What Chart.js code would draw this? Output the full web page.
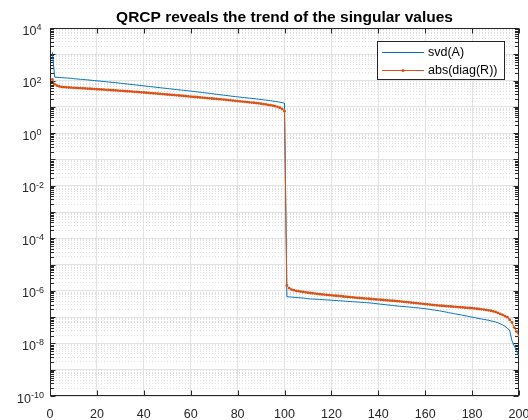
<!DOCTYPE html>
<html><head><meta charset="utf-8">
<script src="https://cdn.jsdelivr.net/npm/chart.js@4/dist/chart.umd.min.js"></script>
<style>html,body{margin:0;padding:0;background:#fff}#wrap{width:528px;height:420px}</style>
</head><body><div id="wrap"><canvas id="c" width="528" height="420"></canvas></div>
<script>
// ---- data ----
const seriesNames = ['svd(A)', 'abs(diag(R))'];
const titleText = 'QRCP reveals the trend of the singular values';
const xTicks = [0, 20, 40, 60, 80, 100, 120, 140, 160, 180, 200];
const yTickExps = [-10, -8, -6, -4, -2, 0, 2, 4];

const svdA = [
1200, 135, 133, 131, 129, 127, 126, 124, 122, 118,
116, 114, 112, 110, 108, 106, 104, 102, 100, 98,
96, 94, 92, 90, 88, 86.5, 84.5, 83, 81, 79,
77, 75.5, 74, 72, 70.5, 69, 67.5, 66, 64.5, 63,
61.5, 60, 58.7, 57.4, 56, 54.7, 53.4, 52.2, 51, 50,
48.8, 47.6, 46.5, 45.4, 44.4, 43.4, 42.4, 41.4, 40.6, 39.8,
38.8, 37.8, 36.9, 36, 35.1, 34.2, 33.4, 32.6, 31.7, 30.9,
30.1, 29.3, 28.6, 27.9, 27.2, 26.5, 25.8, 25.2, 24.6, 24,
23.4, 22.9, 22.4, 21.9, 21.4, 20.9, 20.4, 20, 19.5, 19.1,
18.6, 18.1, 17.6, 17.1, 16.6, 16.1, 15.6, 15.0, 14.4, 13.8,
6.0e-7, 5.9e-7, 5.8e-7, 5.7e-7, 5.6e-7, 5.5e-7, 5.4e-7, 5.3e-7, 5.15e-7, 5.0e-7,
4.94e-7, 4.88e-7, 4.82e-7, 4.76e-7, 4.70e-7, 4.64e-7, 4.58e-7, 4.52e-7, 4.46e-7, 4.40e-7,
4.34e-7, 4.28e-7, 4.22e-7, 4.16e-7, 4.10e-7, 4.04e-7, 3.98e-7, 3.93e-7, 3.87e-7, 3.82e-7,
3.76e-7, 3.71e-7, 3.66e-7, 3.60e-7, 3.55e-7, 3.50e-7, 3.42e-7, 3.34e-7, 3.27e-7, 3.19e-7,
3.12e-7, 3.05e-7, 2.98e-7, 2.91e-7, 2.85e-7, 2.78e-7, 2.72e-7, 2.66e-7, 2.60e-7, 2.58e-7,
2.54e-7, 2.48e-7, 2.44e-7, 2.39e-7, 2.34e-7, 2.29e-7, 2.24e-7, 2.19e-7, 2.14e-7, 2.09e-7,
2.03e-7, 1.97e-7, 1.91e-7, 1.86e-7, 1.80e-7, 1.74e-7, 1.67e-7, 1.61e-7, 1.55e-7, 1.48e-7,
1.43e-7, 1.37e-7, 1.32e-7, 1.28e-7, 1.23e-7, 1.18e-7, 1.13e-7, 1.09e-7, 1.04e-7, 1.00e-7,
9.6e-8, 9.2e-8, 8.8e-8, 8.5e-8, 8.2e-8, 7.9e-8, 7.6e-8, 7.2e-8, 6.9e-8, 6.5e-8,
6.1e-8, 5.6e-8, 5.1e-8, 4.5e-8, 3.8e-8, 3.2e-8, 1.26e-8, 7.9e-9, 5.0e-9, 3.4e-9
];

const absDiagR = [
110, 72, 64, 60, 57.5, 56.5, 55.5, 54.5, 54, 53,
52.6, 51.8, 51.5, 50.6, 50.2, 49.3, 48.9, 48.0, 47.5, 46.8,
46.4, 45.7, 45.3, 44.5, 44.1, 43.3, 42.9, 42.2, 41.5, 40.7,
40.3, 39.6, 39.2, 38.5, 38.0, 37.4, 36.9, 36.3, 35.7, 35.1,
34.6, 33.9, 33.4, 32.8, 32.3, 31.7, 31.2, 30.6, 30.1, 29.5,
29.0, 28.5, 28.0, 27.5, 27.0, 26.6, 26.0, 25.5, 25.1, 24.5,
24.1, 23.7, 23.2, 22.8, 22.4, 22.0, 21.6, 21.2, 20.8, 20.4,
20.0, 19.6, 19.3, 18.9, 18.5, 18.1, 17.7, 17.4, 17.0, 16.6,
16.2, 15.9, 15.6, 15.2, 14.9, 14.6, 14.3, 13.9, 13.6, 13.2,
12.8, 12.4, 12.0, 11.6, 11.2, 10.6, 10.0, 9.3, 8.3, 6.8,
1.6e-6, 1.26e-6, 1.12e-6, 1.06e-6, 1.0e-6, 9.7e-7, 9.4e-7, 9.1e-7, 8.8e-7, 8.5e-7,
8.3e-7, 8.1e-7, 7.9e-7, 7.7e-7, 7.5e-7, 7.3e-7, 7.2e-7, 7.0e-7, 6.9e-7, 6.76e-7,
6.6e-7, 6.5e-7, 6.4e-7, 6.25e-7, 6.1e-7, 6.0e-7, 5.9e-7, 5.8e-7, 5.65e-7, 5.55e-7,
5.45e-7, 5.35e-7, 5.25e-7, 5.15e-7, 5.1e-7, 5.0e-7, 4.9e-7, 4.82e-7, 4.74e-7, 4.66e-7,
4.58e-7, 4.5e-7, 4.42e-7, 4.34e-7, 4.27e-7, 4.2e-7, 4.13e-7, 4.06e-7, 4.0e-7, 3.91e-7,
3.83e-7, 3.74e-7, 3.66e-7, 3.58e-7, 3.50e-7, 3.43e-7, 3.35e-7, 3.28e-7, 3.21e-7, 3.14e-7,
3.07e-7, 3.00e-7, 2.94e-7, 2.87e-7, 2.81e-7, 2.75e-7, 2.71e-7, 2.66e-7, 2.62e-7, 2.58e-7,
2.54e-7, 2.50e-7, 2.46e-7, 2.42e-7, 2.38e-7, 2.34e-7, 2.30e-7, 2.26e-7, 2.23e-7, 2.19e-7,
2.14e-7, 2.09e-7, 2.04e-7, 1.99e-7, 1.94e-7, 1.89e-7, 1.82e-7, 1.75e-7, 1.67e-7, 1.58e-7,
1.45e-7, 1.33e-7, 1.22e-7, 1.10e-7, 1.0e-7, 8.0e-8, 6.3e-8, 4.0e-8, 2.8e-8, 1.9e-8
];

// ---- chart ----
const BLUE = '#0072BD', ORANGE = '#D95319', AX = '#262626';
const FONT = '"Liberation Sans", Arial, Helvetica, sans-serif';
const indices = svdA.map((_, i) => i + 1);
const toPts = arr => arr.map((v, i) => ({x: indices[i], y: v}));

const yGridVals = [];
for (let e = yTickExps[0]; e <= yTickExps[yTickExps.length - 1]; e++) {
  for (let m = 1; m <= 9; m++) {
    if (e === yTickExps[yTickExps.length - 1] && m > 1) break;
    yGridVals.push(Number((m + 'e' + e)));
  }
}
const isMajor = v => Math.abs(Math.log10(v) - Math.round(Math.log10(v))) < 1e-9;

const decor = {
  id: 'decor',
  beforeDatasetsDraw(chart) {
    // axes box and tick marks sit below the data (MATLAB Layer = bottom)
    const {ctx, chartArea: a, scales: {x, y}} = chart;
    ctx.save();
    ctx.strokeStyle = AX; ctx.lineWidth = 1;
    const L = Math.round(a.left) + 0.5, R = Math.round(a.right) - 0.5;
    const T = Math.round(a.top) + 0.5, B = Math.round(a.bottom) - 0.5;
    ctx.strokeRect(L, T, R - L, B - T);
    ctx.beginPath();
    xTicks.forEach(v => {
      const px = Math.round(x.getPixelForValue(v)) + 0.5;
      ctx.moveTo(px, B); ctx.lineTo(px, B - 5);
      ctx.moveTo(px, T); ctx.lineTo(px, T + 5);
    });
    yGridVals.forEach(v => {
      const py = Math.round(y.getPixelForValue(v)) + 0.5;
      const len = isMajor(v) ? 5 : 3.5;
      ctx.moveTo(L, py); ctx.lineTo(L + len, py);
      ctx.moveTo(R, py); ctx.lineTo(R - len, py);
    });
    ctx.stroke();
    ctx.restore();
  },
  afterDraw(chart) {
    const {ctx, chartArea: a, scales: {x, y}} = chart;
    ctx.save();
    // x tick labels
    ctx.fillStyle = AX;
    ctx.font = '12.5px ' + FONT;
    ctx.textAlign = 'center'; ctx.textBaseline = 'alphabetic';
    xTicks.forEach(v => ctx.fillText(String(v), x.getPixelForValue(v), 417.5));
    // y tick labels 10^e
    const baseFont = '12.5px ' + FONT, expFont = '9px ' + FONT;
    ctx.textAlign = 'left';
    yTickExps.forEach(e => {
      const py = y.getPixelForValue(Math.pow(10, e));
      const expStr = e < 0 ? '-' + (-e) : String(e);
      ctx.font = expFont; const we = ctx.measureText(expStr).width;
      ctx.font = baseFont; const wb = ctx.measureText('10').width;
      const right = e < 0 ? 44 : 41.5;
      ctx.fillText('10', right - we - wb, py + 6.5);
      ctx.font = expFont; ctx.fillText(expStr, right - we, py + 2);
    });
    // title
    ctx.fillStyle = '#000';
    ctx.font = 'bold 15.5px ' + FONT;
    ctx.textAlign = 'center';
    ctx.fillText(titleText, (a.left + a.right) / 2, 21.5);
    // legend
    ctx.fillStyle = '#fff';
    ctx.fillRect(377.5, 41.5, 127, 38);
    ctx.strokeStyle = AX; ctx.lineWidth = 1;
    ctx.strokeRect(377.5, 41.5, 127, 38);
    const rows = [{c: BLUE, y: 52, mk: false}, {c: ORANGE, y: 70, mk: true}];
    ctx.font = '12.5px ' + FONT; ctx.textAlign = 'left'; ctx.textBaseline = 'middle';
    rows.forEach((r, i) => {
      ctx.strokeStyle = r.c; ctx.lineWidth = 1;
      ctx.beginPath(); ctx.moveTo(382, r.y + 0.5); ctx.lineTo(424, r.y + 0.5); ctx.stroke();
      if (r.mk) { ctx.fillStyle = r.c; ctx.beginPath(); ctx.arc(403, r.y + 0.5, 1.6, 0, Math.PI * 2); ctx.fill(); }
      ctx.fillStyle = '#000';
      ctx.fillText(seriesNames[i], 428, r.y + 1);
    });
    ctx.restore();
  }
};

new Chart(document.getElementById('c'), {
  type: 'line',
  data: {
    datasets: [
      {label: seriesNames[0], data: toPts(svdA), borderColor: BLUE, backgroundColor: BLUE,
       borderWidth: 1, pointRadius: 0, tension: 0, order: 1},
      {label: seriesNames[1], data: toPts(absDiagR), borderColor: ORANGE, backgroundColor: ORANGE,
       borderWidth: 1, pointRadius: 1.4, pointBorderWidth: 0, pointStyle: 'circle', tension: 0, order: 0}
    ]
  },
  options: {
    responsive: false, animation: false, devicePixelRatio: 1,
    layout: {padding: {top: 28, right: 9, left: 0, bottom: 0}},
    plugins: {legend: {display: false}, title: {display: false}, tooltip: {enabled: false}},
    scales: {
      x: {
        type: 'linear', min: 0, max: 200,
        ticks: {display: false, stepSize: 20},
        afterBuildTicks: s => { s.ticks = xTicks.map(v => ({value: v})); },
        afterFit: s => { s.height = 24; },
        grid: {drawTicks: false, lineWidth: 1,
               color: c => (c.tick && (c.tick.value === 0 || c.tick.value === 200)) ? 'rgba(0,0,0,0)' : '#e3e3e3'},
        border: {display: false}
      },
      y: {
        type: 'logarithmic', min: 1e-10, max: 1e4,
        ticks: {display: false},
        afterBuildTicks: s => { s.ticks = yGridVals.map(v => ({value: v, major: isMajor(v)})); },
        afterFit: s => { s.width = 50; },
        grid: {drawTicks: false, lineWidth: 1,
               color: c => (c.tick && isMajor(c.tick.value)) ? '#e3e3e3' : '#dedede'},
        border: {display: false, dash: c => (c.tick && isMajor(c.tick.value)) ? [] : [1, 2]}
      }
    }
  },
  plugins: [decor]
});
</script>
</body></html>
